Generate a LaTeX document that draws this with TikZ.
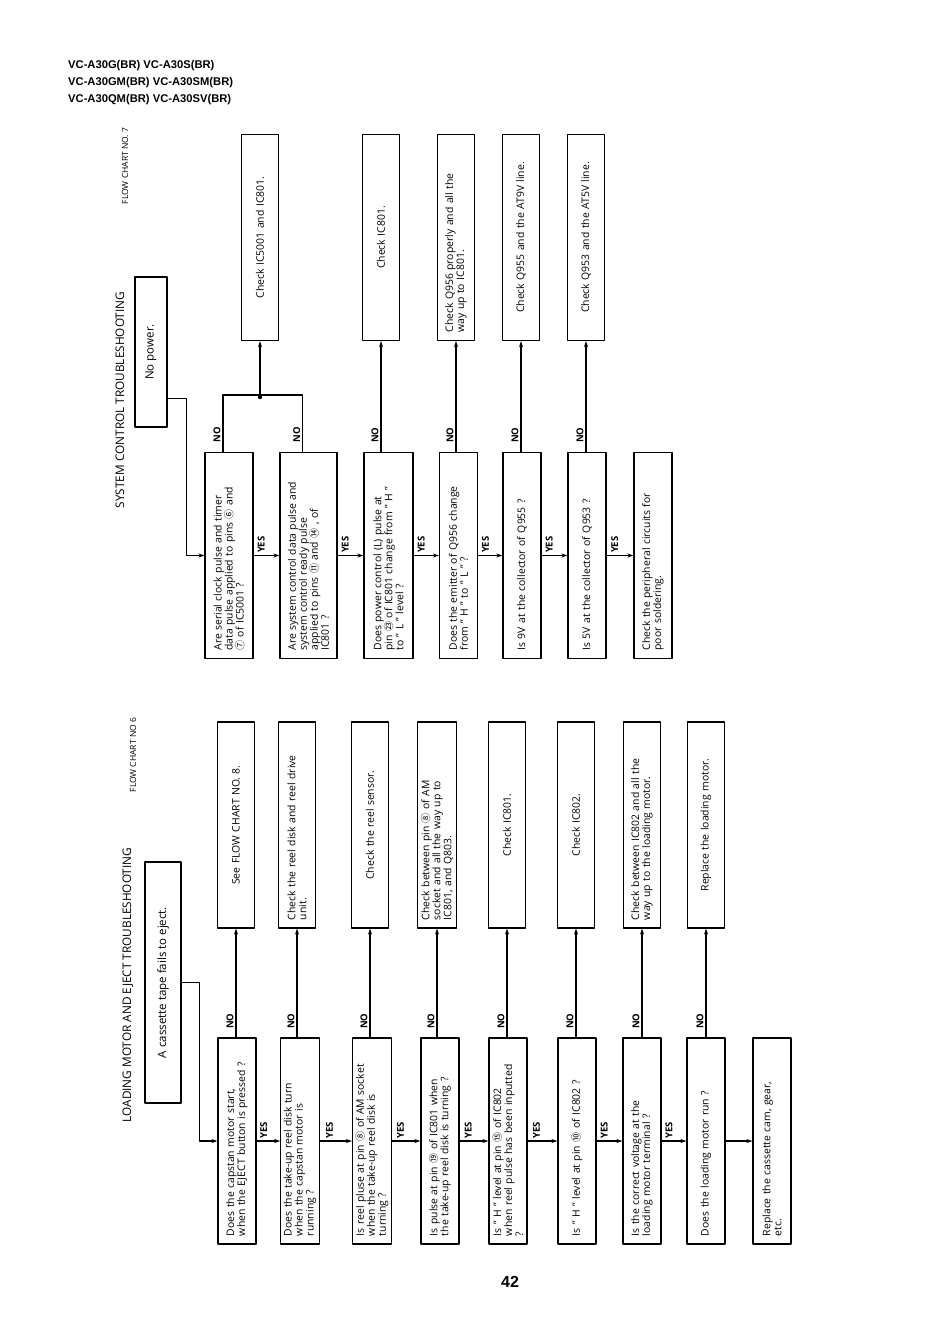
\documentclass[tikz,border=0pt]{standalone}
\usepackage{fontspec}
\setmainfont{Open Sans}
\newfontfamily\headfont{Liberation Sans}
\newfontfamily\cjk{Noto Sans CJK SC}
\usetikzlibrary{arrows.meta}
\newcommand{\pinno}[1]{{\cjk\fontsize{10bp}{10bp}\selectfont #1}}

\begin{document}
\begin{tikzpicture}[x=1bp, y=1bp, line cap=round, line join=round,
  box/.style={draw=black, line width=1.1bp, rotate=90, inner sep=3bp, font=\fontsize{10.4bp}{11bp}\selectfont},
  qbox/.style={box, minimum width=206bp, minimum height=38bp, text width=190bp, align=left},
  cbox/.style={box, minimum width=206bp, minimum height=37bp, text width=190bp, align=center},
  startbox/.style={draw=black, line width=2.4bp, rotate=90, inner sep=3bp, font=\fontsize{11.5bp}{13bp}\selectfont},
  ttl/.style={rotate=90, inner sep=0pt, font=\fontsize{11.8bp}{13bp}\selectfont},
  chartno/.style={rotate=90, inner sep=0pt, font=\fontsize{8.5bp}{9bp}\selectfont},
  nolab/.style={rotate=90, inner sep=2bp, font=\bfseries\fontsize{9.5bp}{10bp}\selectfont},
  link/.style={draw=black, line width=1.1bp},
  arr/.style={link, -{Stealth[length=6bp, width=4bp]}}]
  \useasboundingbox (0,0) rectangle (950,-1340);
  \node[anchor=north west, inner sep=0pt, align=left, font=\headfont\bfseries\fontsize{11.2bp}{17bp}\selectfont] (hdr) at (68,-60) {VC-A30G(BR) VC-A30S(BR)\\VC-A30GM(BR) VC-A30SM(BR)\\VC-A30QM(BR) VC-A30SV(BR)};
  \node[inner sep=0pt, font=\headfont\bfseries\fontsize{16bp}{16bp}\selectfont] (pg) at (510,-1282) {42};
  \node[ttl] (ttl6) at (128,-985) {LOADING MOTOR AND EJECT TROUBLESHOOTING};
  \node[chartno] (no6) at (133,-755) {FLOW CHART NO 6};
  \node[startbox, minimum width=241bp, minimum height=36bp] (st6) at (163,-982.5) {A cassette tape fails to eject.};
  \node[qbox] (q1) at (237,-1141) {Does the capstan motor start,\\when the EJECT button is pressed ?};
  \node[qbox] (q2) at (300,-1141) {Does the take-up reel disk turn\\when the capstan motor is\\running ?};
  \node[qbox] (q3) at (372,-1141) {Is reel pluse at pin \pinno{⑧} of AM socket\\when the take-up reel disk is\\turning ?};
  \node[qbox] (q4) at (440,-1141) {Is pulse at pin \pinno{⑲} of IC801 when\\the take-up reel disk is turning ?};
  \node[qbox] (q5) at (508,-1141) {Is ” H ” level at pin \pinno{⑮} of IC802\\when reel pulse has been inputted\\?};
  \node[qbox] (q6) at (577,-1141) {Is ” H ” level at pin \pinno{⑩} of IC802 ?};
  \node[qbox] (q7) at (642,-1141) {Is the correct voltage at the\\loading motor terminal ?};
  \node[qbox] (q8) at (706,-1141) {Does the loading motor run ?};
  \node[qbox] (q9) at (772,-1141) {Replace the cassette cam, gear,\\etc.};
  \node[cbox] (c1) at (236,-825) {See FLOW CHART NO. 8.};
  \node[cbox, align=left] (c2) at (297,-825) {Check the reel disk and reel drive\\unit.};
  \node[cbox] (c3) at (370,-825) {Check the reel sensor.};
  \node[cbox, align=left] (c4) at (437,-825) {Check between pin \pinno{⑧} of AM\\socket and all the way up to\\IC801, and Q803.};
  \node[cbox] (c5) at (507,-825) {Check IC801.};
  \node[cbox] (c6) at (576,-825) {Check IC802.};
  \node[cbox, align=left] (c7) at (642,-825) {Check between IC802 and all the\\way up to the loading motor.};
  \node[cbox] (c8) at (706,-825) {Replace the loading motor.};
  \draw[arr] (st6.south) -- ++(17,0) |- (q1.north);
  \foreach \a/\b in {q1/q2,q2/q3,q3/q4,q4/q5,q5/q6,q6/q7,q7/q8}
    \draw[arr] (\a.south) -- node[nolab, pos=0.3, anchor=west] {YES} (\b.north);
  \draw[arr] (q8.south) -- (q9.north);
  \foreach \i in {1,...,8}
    \draw[arr] (c\i.west |- q\i.east) -- node[nolab, pos=0.15, anchor=south] {NO} (c\i.west);
  \node[ttl] (ttl7) at (120,-400) {SYSTEM CONTROL TROUBLESHOOTING};
  \node[chartno] (no7) at (125,-166) {FLOW CHART NO. 7};
  \node[startbox, minimum width=150bp, minimum height=32bp] (st7) at (151,-352) {No power.};
  \node[qbox, minimum height=48bp] (s1) at (229,-555.5) {Are serial clock pulse and timer\\data pulse applied to pins \pinno{⑥} and\\\pinno{⑦} of IC5001 ?};
  \node[qbox, minimum height=57bp] (s2) at (308.5,-555.5) {Are system control data pulse and\\system control ready pulse\\applied to pins \pinno{⑪} and \pinno{⑭} , of\\IC801 ?};
  \node[qbox, minimum height=49bp] (s3) at (388.5,-555.5) {Does power control (L) pulse at\\pin \pinno{㉓} of IC801 change from ” H ”\\to ” L ” level ?};
  \node[qbox] (s4) at (458.5,-555.5) {Does the emitter of Q956 change\\from ” H ” to ” L ” ?};
  \node[qbox] (s5) at (522,-555.5) {Is 9V at the collector of Q955 ?};
  \node[qbox] (s6) at (587,-555.5) {Is 5V at the collector of Q953 ?};
  \node[qbox] (s7) at (653,-555.5) {Check the peripheral circuits for\\poor soldering.};
  \node[cbox] (k1) at (260,-237.5) {Check IC5001 and IC801.};
  \node[cbox] (k2) at (381,-237.5) {Check IC801.};
  \node[cbox, align=left] (k3) at (456,-237.5) {Check Q956 properly and all the\\way up to IC801.};
  \node[cbox] (k4) at (521,-237.5) {Check Q955 and the AT9V line.};
  \node[cbox] (k5) at (586,-237.5) {Check Q953 and the AT5V line.};
  \draw[arr] ([yshift=30bp]st7.south west) -- ++(18,0) |- (s1.north);
  \foreach \a/\b in {s1/s2,s2/s3,s3/s4,s4/s5,s5/s6,s6/s7}
    \draw[arr] (\a.south) -- node[nolab, pos=0.3, anchor=west] {YES} (\b.north);
  \coordinate (jn) at (k1.west |- 0,-397);
  \draw[link] ([xshift=-6bp]s1.east) -- node[nolab, pos=0.3, anchor=south] {NO} ++(0,57) -| ([xshift=-6bp]s2.east);
  \node[nolab, anchor=south] (no2) at ([xshift=-6bp, yshift=17bp]s2.east) {NO};
  \fill (jn) circle (2.2);
  \draw[arr] (jn) -- (k1.west);
  \draw[arr] (k2.west |- s3.east) -- node[nolab, pos=0.15, anchor=south] {NO} (k2.west);
  \draw[arr] (k3.west |- s4.east) -- node[nolab, pos=0.15, anchor=south] {NO} (k3.west);
  \draw[arr] (k4.west |- s5.east) -- node[nolab, pos=0.15, anchor=south] {NO} (k4.west);
  \draw[arr] (k5.west |- s6.east) -- node[nolab, pos=0.15, anchor=south] {NO} (k5.west);
\end{tikzpicture}
\end{document}
